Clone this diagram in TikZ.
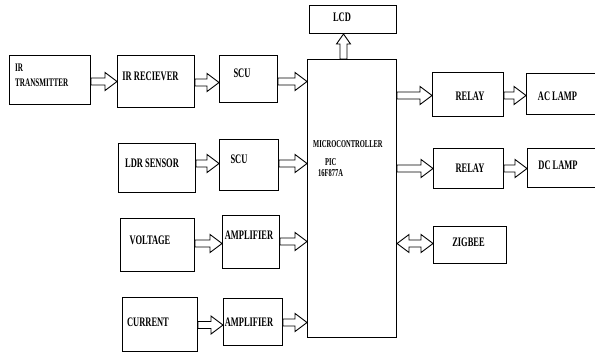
\documentclass[tikz,border=0pt]{standalone}
\usepackage{fontspec}
\newfontfamily\bxf{Liberation Serif}[FakeStretch=0.65]
\newfontfamily\bxg{Liberation Serif}[FakeStretch=0.62]
\usetikzlibrary{calc}
\begin{document}
\begin{tikzpicture}[x=1pt,y=-1pt,
  box/.style={draw, line width=1pt, inner sep=0pt, anchor=north west},
  lbl/.style={inner sep=0pt, font=\bxf\bfseries\fontsize{13}{15}\selectfont},
  lbls/.style={inner sep=0pt, anchor=west, font=\bxg\bfseries\fontsize{10.5}{12}\selectfont},
  harrow/.style={draw, line width=0.9pt, line join=miter, to path={
    let \p1=(\tikztostart), \p2=(\tikztotarget) in
    (\x1,\y1+3.5pt) -- (\x2-12pt,\y1+3.5pt) -- (\x2-12pt,\y1+9pt) -- (\x2,\y1)
    -- (\x2-12pt,\y1-9pt) -- (\x2-12pt,\y1-3.5pt) -- (\x1,\y1-3.5pt) -- cycle}},
  darrow/.style={draw, line width=0.9pt, line join=miter, to path={
    let \p1=(\tikztostart), \p2=(\tikztotarget) in
    (\x1,\y1) -- (\x1+12pt,\y1+9pt) -- (\x1+12pt,\y1+3.5pt) -- (\x2-12pt,\y1+3.5pt)
    -- (\x2-12pt,\y1+9pt) -- (\x2,\y1) -- (\x2-12pt,\y1-9pt) -- (\x2-12pt,\y1-3.5pt)
    -- (\x1+12pt,\y1-3.5pt) -- (\x1+12pt,\y1-9pt) -- cycle}},
  varrow/.style={draw, line width=0.9pt, line join=miter, to path={
    let \p1=(\tikztostart), \p2=(\tikztotarget) in
    (\x1-3.5pt,\y1) -- (\x1-3.5pt,\y2-10pt) -- (\x1-7pt,\y2-10pt) -- (\x1,\y2)
    -- (\x1+7pt,\y2-10pt) -- (\x1+3.5pt,\y2-10pt) -- (\x1+3.5pt,\y1) -- cycle}}
]
\clip (0,0) rectangle (595,353);
\fill[white] (0,0) rectangle (595,353);

% boxes
\node[box, minimum width=81pt, minimum height=49pt] (irtx) at (9,55) {};
\node[box, minimum width=77pt, minimum height=52pt] (irrx) at (117,55) {};
\node[box, minimum width=58pt, minimum height=47pt] (scu1) at (219,55) {};
\node[box, minimum width=77pt, minimum height=49pt] (ldr) at (118,143) {};
\node[box, minimum width=59pt, minimum height=51pt] (scu2) at (219,139) {};
\node[box, minimum width=74pt, minimum height=53pt] (volt) at (120,218) {};
\node[box, minimum width=57pt, minimum height=53pt] (amp1) at (222,215) {};
\node[box, minimum width=75pt, minimum height=54pt] (cur) at (122,297) {};
\node[box, minimum width=59pt, minimum height=47pt] (amp2) at (223,298) {};
\node[box, minimum width=89pt, minimum height=278pt] (mcu) at (307,59) {};
\node[box, minimum width=87pt, minimum height=28pt] (lcd) at (309,5) {};
\node[box, minimum width=71pt, minimum height=44pt] (relay1) at (432,72) {};
\node[box, minimum width=80pt, minimum height=41pt] (ac) at (526,73) {};
\node[box, minimum width=70pt, minimum height=40pt] (relay2) at (433,148) {};
\node[box, minimum width=80pt, minimum height=39pt] (dc) at (527,148) {};
\node[box, minimum width=73pt, minimum height=37pt] (zig) at (433,226) {};

% labels
\node[inner sep=0pt, anchor=north west, align=left,
      font=\bxg\bfseries\fontsize{11.5}{15}\selectfont] (irtx-t) at (15,64) {IR\\TRANSMITTER};
\node[lbl] (irrx-t) at (150.5,76) {IR RECIEVER};
\node[lbl] (scu1-t) at (242,73) {SCU};
\node[lbl] (ldr-t) at (152,163) {LDR SENSOR};
\node[lbl] (scu2-t) at (239,159) {SCU};
\node[lbl] (volt-t) at (150,240) {VOLTAGE};
\node[lbl] (amp1-t) at (249,235) {AMPLIFIER};
\node[lbl] (cur-t) at (148,322) {CURRENT};
\node[lbl] (amp2-t) at (249,322) {AMPLIFIER};
\node[lbl] (lcd-t) at (342,17) {LCD};
\node[lbl] (relay1-t) at (470,96) {RELAY};
\node[lbl] (ac-t) at (557.5,96) {AC LAMP};
\node[lbl] (relay2-t) at (470,168) {RELAY};
\node[lbl] (dc-t) at (558,165) {DC LAMP};
\node[lbl] (zig-t) at (468.5,242) {ZIGBEE};
\node[lbls] (mcu-t1) at (313,144) {MICROCONTROLLER};
\node[lbls] (mcu-t2) at (325,162) {PIC};
\node[lbls] (mcu-t3) at (318,173) {16F877A};

% connectors
\draw[harrow] ([yshift=-1.5pt]irtx.east) to (irrx.west);
\draw[harrow] ([yshift=-1pt]irrx.east) to (scu1.west);
\draw[harrow] ([yshift=-2.5pt]scu1.east) to (mcu.west);
\draw[harrow] ([yshift=4.5pt]ldr.east) to (scu2.west);
\draw[harrow] ([yshift=1.5pt]scu2.east) to (mcu.west);
\draw[harrow] ([yshift=1.5pt]volt.east) to (amp1.west);
\draw[harrow] ([yshift=0.5pt]amp1.east) to (mcu.west);
\draw[harrow] ([yshift=-0.5pt]cur.east) to (amp2.west);
\draw[harrow] ([yshift=-0.5pt]amp2.east) to (mcu.west);
\draw[harrow] ([yshift=-1pt]mcu.east |- relay1.west) to (relay1.west);
\draw[harrow] ([yshift=-1pt]relay1.east) to (ac.west);
\draw[harrow] (mcu.east |- relay2.west) to (relay2.west);
\draw[harrow] (relay2.east) to (dc.west);
\draw[darrow] ([yshift=1.5pt]mcu.east |- zig.west) to (zig.west);
\draw[varrow] ([xshift=-8.5pt]mcu.north) to (lcd.south);
\end{tikzpicture}
\end{document}
